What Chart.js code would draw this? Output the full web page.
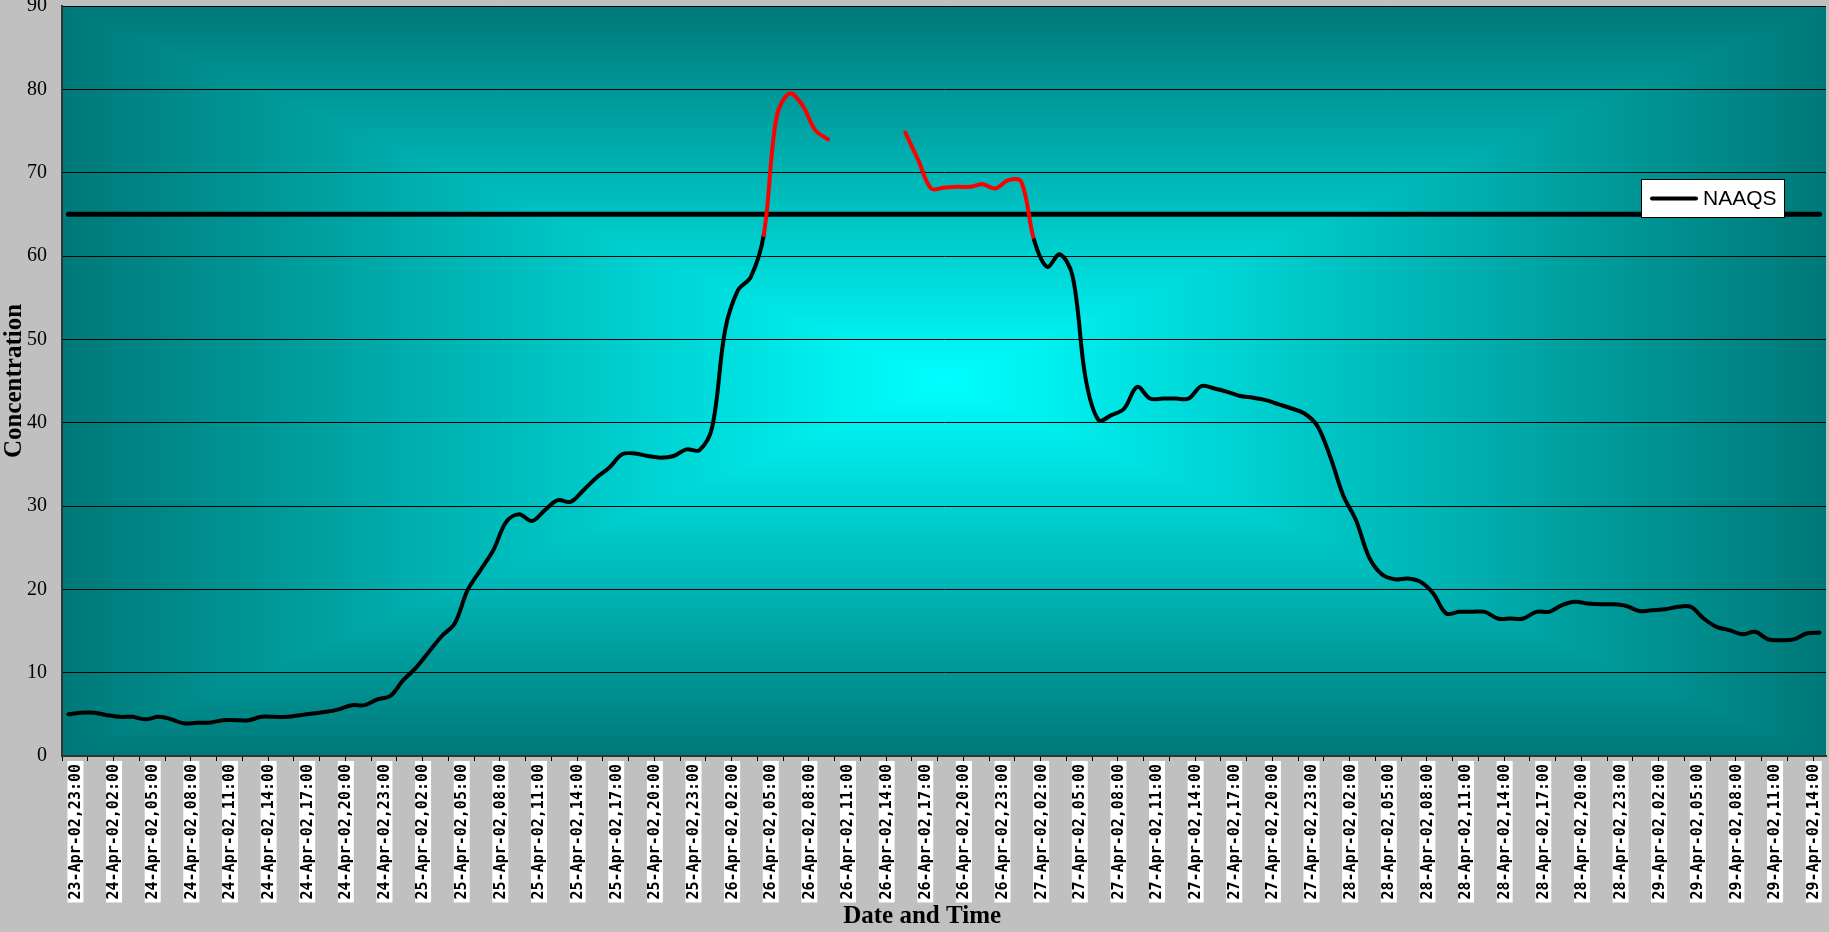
<!DOCTYPE html>
<html>
<head>
<meta charset="utf-8">
<title>Concentration</title>
<script src="https://cdn.jsdelivr.net/npm/chart.js@4.4.1/dist/chart.umd.min.js"></script>
<style>
    html, body { margin: 0; padding: 0; background: #c0c0c0; }
    #wrap { width: 1829px; height: 932px; position: relative; }
</style>
</head>
<body>
<div id="wrap"><canvas id="myChart"></canvas></div>
<script>
// hourly readings, 23-Apr-02 23:00 through 29-Apr-02 15:00
var days = ["23-Apr-02", "24-Apr-02", "25-Apr-02", "26-Apr-02", "27-Apr-02", "28-Apr-02", "29-Apr-02"];
var firstHour = 23;
var hourCount = 137;

var apr23 = [5.0];
var apr24 = [5.2, 5.2, 4.9, 4.7, 4.7, 4.4, 4.7, 4.4, 3.9, 4.0, 4.0, 4.3,
             4.3, 4.3, 4.7, 4.7, 4.7, 4.9, 5.1, 5.3, 5.6, 6.1, 6.1, 6.8];
var apr25 = [7.2, 9.1, 10.6, 12.5, 14.4, 15.9, 19.9, 22.3, 24.7, 28.1, 29.0, 28.2,
             29.5, 30.7, 30.5, 31.9, 33.4, 34.6, 36.2, 36.3, 36.0, 35.8, 36.0, 36.8];
var apr26 = [36.7, 39.5, 51.1, 55.9, 57.5, 62.5, 76.7, 79.5, 78.1, 75.1, 74.0, null,
             null, null, null, null, 74.8, 71.5, 68.1, 68.2, 68.3, 68.3, 68.6, 68.1];
var apr27 = [69.1, 68.9, 61.9, 58.7, 60.2, 57.5, 45.3, 40.3, 40.9, 41.7, 44.3, 42.9,
             42.9, 42.9, 42.9, 44.4, 44.1, 43.7, 43.2, 43.0, 42.7, 42.2, 41.7, 41.1];
var apr28 = [39.6, 35.9, 31.3, 28.3, 23.9, 21.8, 21.2, 21.3, 20.9, 19.5, 17.1, 17.3,
             17.3, 17.3, 16.5, 16.5, 16.5, 17.3, 17.3, 18.1, 18.5, 18.3, 18.2, 18.2];
var apr29 = [18.0, 17.4, 17.5, 17.6, 17.9, 17.9, 16.5, 15.5, 15.1, 14.6, 14.9, 14.0,
             13.9, 14.0, 14.7, 14.8];

var naaqsLevel = 65;
var highlightAbove = 61;   // stretches above this are drawn red
var labelEvery = 3;
var tickEvery = 2;

var concentration = [].concat(apr23, apr24, apr25, apr26, apr27, apr28, apr29);

var categories = [];
for (var h = 0; h < hourCount; h++) {
    var t = firstHour + h;
    var hh = t % 24;
    categories.push(days[Math.floor(t / 24)] + "," + (hh < 10 ? "0" : "") + hh + ":00");
}

var plotBackground = {
    id: "plotBackground",
    beforeDraw: function (chart) {
        var ctx = chart.ctx;
        var a = chart.chartArea;
        ctx.save();
        ctx.fillStyle = "#c0c0c0";
        ctx.fillRect(0, 0, chart.width, chart.height);
        ctx.restore();
        // rectangular "from centre" gradient: cyan in the middle, teal at the edges
        var left = Math.round(a.left), top = Math.round(a.top);
        var w = Math.round(a.right) - left, h = Math.round(a.bottom) - top;
        var img = ctx.createImageData(w, h);
        var hw = w / 2, hh = h / 2;
        for (var y = 0; y < h; y++) {
            var dy = Math.abs(y + 0.5 - hh) / hh;
            for (var x = 0; x < w; x++) {
                var dx = Math.abs(x + 0.5 - hw) / hw;
                var c = 255 - 135 * Math.max(dx, dy);
                var p = (y * w + x) * 4;
                img.data[p] = 0;
                img.data[p + 1] = c;
                img.data[p + 2] = c;
                img.data[p + 3] = 255;
            }
        }
        ctx.putImageData(img, left, top);
    }
};

var naaqsKey = {
    id: "naaqsKey",
    afterDraw: function (chart) {
        var ctx = chart.ctx;
        var ds = chart.data.datasets[1];
        var x = chart.chartArea.right - 184.5, y = 179.5, w = 143, h = 38;
        ctx.save();
        ctx.fillStyle = "#ffffff";
        ctx.fillRect(x, y, w, h);
        ctx.strokeStyle = "#000000";
        ctx.lineWidth = 1;
        ctx.strokeRect(x, y, w, h);
        ctx.strokeStyle = ds.borderColor;
        ctx.lineWidth = 4;
        ctx.lineCap = "round";
        ctx.beginPath();
        ctx.moveTo(x + 10.5, y + 19);
        ctx.lineTo(x + 54.5, y + 19);
        ctx.stroke();
        ctx.fillStyle = "#000000";
        ctx.font = '21px "Liberation Sans", Arial, sans-serif';
        ctx.textBaseline = "middle";
        ctx.fillText(ds.label, x + 61.5, y + 20);
        ctx.restore();
    }
};

new Chart("myChart", {
    type: "line",
    data: {
        labels: categories,
        datasets: [{
            label: "Concentration",
            data: concentration,
            borderColor: "#000000",
            borderWidth: 4,
            borderCapStyle: "round",
            borderJoinStyle: "round",
            pointRadius: 0,
            tension: 0.35,
            spanGaps: false,
            segment: {
                borderColor: function (ctx) {
                    return (ctx.p0.parsed.y > highlightAbove && ctx.p1.parsed.y > highlightAbove) ? "#ff0000" : "#000000";
                }
            }
        }, {
            label: "NAAQS",
            data: [{ x: categories[0], y: naaqsLevel }, { x: categories[categories.length - 1], y: naaqsLevel }],
            borderColor: "#000000",
            borderWidth: 5,
            borderCapStyle: "round",
            pointRadius: 0
        }]
    },
    options: {
        responsive: true,
        maintainAspectRatio: false,
        animation: false,
        layout: { padding: { top: 6, right: 3, bottom: 0, left: 0 } },
        plugins: {
            legend: { display: false },
            tooltip: { enabled: false }
        },
        scales: {
            x: {
                type: "category",
                offset: true,
                afterFit: function (s) {
                    s.height = 176;
                    s.paddingLeft = 0;
                    s.paddingRight = 0;
                },
                border: { display: true, color: "#333333", width: 2 },
                grid: {
                    offset: true,
                    drawOnChartArea: false,
                    drawTicks: true,
                    tickLength: 5,
                    lineWidth: 1,
                    color: function (ctx) { return ctx.index % tickEvery === 0 ? "#000000" : "rgba(0,0,0,0)"; }
                },
                ticks: {
                    autoSkip: false,
                    minRotation: 90,
                    maxRotation: 90,
                    padding: 3,
                    color: "#000000",
                    font: { family: "'DejaVu Sans Mono', monospace", weight: "bold", size: 15, lineHeight: 1 },
                    showLabelBackdrop: function (ctx) { return ctx.index % labelEvery === 0; },
                    backdropColor: "#ffffff",
                    backdropPadding: { top: 1, bottom: 0, left: 3, right: 3 },
                    callback: function (value, index) {
                        return index % labelEvery === 0 ? this.getLabelForValue(value) : "";
                    }
                },
                title: {
                    display: true,
                    text: "Date and Time       ",
                    color: "#000000",
                    padding: { top: 0, bottom: 0 },
                    font: { family: "'Liberation Serif', 'Times New Roman', serif", weight: "bold", size: 25 }
                }
            },
            y: {
                min: 0,
                max: 90,
                afterFit: function (s) {
                    s.width = 62;
                    s.paddingTop = 0;
                    s.paddingBottom = 0;
                },
                border: { display: true, color: "#333333", width: 2 },
                grid: { color: "#000000", lineWidth: 1, drawTicks: false },
                ticks: {
                    stepSize: 10,
                    padding: 15,
                    color: "#000000",
                    font: { family: "'Liberation Serif', 'Times New Roman', serif", size: 20 }
                },
                title: {
                    display: true,
                    text: "Concentration",
                    color: "#000000",
                    padding: { top: 0, bottom: 0 },
                    font: { family: "'Liberation Serif', 'Times New Roman', serif", weight: "bold", size: 25 }
                }
            }
        }
    },
    plugins: [plotBackground, naaqsKey]
});
</script>
</body>
</html>
